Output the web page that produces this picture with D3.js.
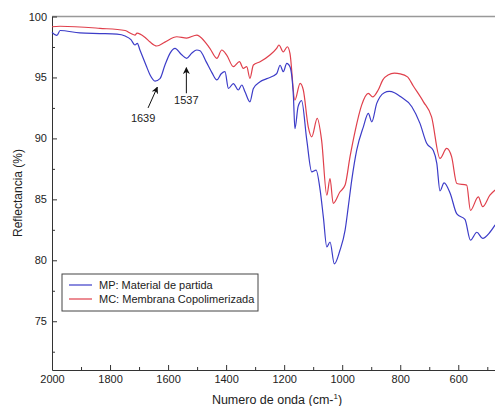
<!DOCTYPE html>
<html>
<head>
<meta charset="utf-8">
<script src="https://cdn.jsdelivr.net/npm/d3@7"></script>
<style>
  body { margin: 0; background: #fff; }
  svg { font-family: "Liberation Sans", Arial, sans-serif; }
  .axis text { font-size: 11px; fill: #222; }
  .axis path, .axis line { stroke: #333; }
  .line { fill: none; stroke-width: 1.2; }
</style>
</head>
<body>
<div id="graph"></div>
<script>
// wavenumber (cm-1) and reflectance (%)
var mpWave = [2000, 1983, 1972, 1904, 1835, 1776, 1748, 1728, 1714, 1706, 1697, 1676, 1662, 1645, 1628, 1611, 1593, 1576, 1555, 1536, 1518, 1501, 1490, 1469, 1449, 1432, 1417, 1404, 1392, 1375, 1358, 1346, 1335, 1318, 1306, 1283, 1260, 1226, 1214, 1203, 1191, 1180, 1168, 1163, 1152, 1140, 1122, 1105, 1090, 1076, 1065, 1053, 1042, 1027, 1008, 990, 979, 967, 950, 927, 910, 898, 881, 870, 855, 838, 820, 801, 760, 732, 709, 686, 674, 663, 649, 628, 605, 577, 558, 536, 516, 491, 473];
var mpRefl = [98.7, 98.45, 98.85, 98.65, 98.6, 98.55, 98.4, 98.1, 97.66, 97.8, 97.25, 96.0, 95.2, 94.7, 94.9, 96.0, 97.0, 97.39, 96.9, 96.57, 97.0, 97.25, 97.19, 96.3, 95.4, 94.8, 95.3, 95.47, 94.1, 94.5, 93.97, 94.38, 93.83, 93.0, 94.1, 94.65, 94.9, 95.3, 96.0, 95.47, 96.16, 95.88, 93.4, 90.8, 92.6, 93.1, 89.86, 87.26, 87.4, 85.76, 83.56, 81.1, 81.5, 79.7, 80.8, 82.47, 84.4, 86.6, 89.04, 90.95, 92.05, 91.36, 92.87, 93.4, 93.75, 93.85, 93.75, 93.45, 92.6, 91.23, 89.6, 89.0, 87.95, 85.7, 86.35, 85.5, 83.8, 83.35, 81.65, 82.3, 81.8, 82.3, 82.9];

var mcWave = [2000, 1972, 1835, 1748, 1728, 1714, 1707, 1680, 1662, 1639, 1611, 1570, 1536, 1501, 1490, 1456, 1432, 1415, 1398, 1375, 1354, 1341, 1329, 1318, 1306, 1283, 1249, 1226, 1218, 1203, 1189, 1180, 1163, 1145, 1134, 1117, 1105, 1086, 1071, 1053, 1042, 1031, 1008, 990, 973, 956, 933, 910, 895, 876, 860, 842, 820, 800, 775, 755, 720, 692, 663, 640, 623, 605, 571, 558, 531, 516, 491, 473];
var mcRefl = [99.16, 99.2, 99.03, 98.85, 98.6, 98.48, 98.64, 98.3, 97.9, 97.58, 97.9, 98.34, 98.23, 98.48, 98.34, 97.39, 96.57, 97.25, 96.84, 95.88, 96.29, 95.75, 95.88, 94.93, 96.02, 96.29, 96.84, 97.39, 97.66, 97.1, 97.52, 96.98, 93.14, 94.52, 93.97, 90.95, 90.13, 91.64, 89.86, 85.34, 86.7, 84.66, 85.6, 86.17, 88.5, 90.54, 92.73, 93.69, 93.4, 93.97, 94.8, 95.2, 95.35, 95.3, 95.05, 94.3, 93.0, 91.77, 88.36, 89.18, 88.5, 86.3, 86.17, 84.1, 85.2, 84.4, 85.34, 85.76];

var seriesNames = ["MP: Material de partida", "MC: Membrana Copolimerizada"];
var xTicks = [2000, 1800, 1600, 1400, 1200, 1000, 800, 600];
var xMinor = [1900, 1700, 1500, 1300, 1100, 900, 700, 500];
var yTicks = [75, 80, 85, 90, 95, 100];
var yMinor = [72.5, 77.5, 82.5, 87.5, 92.5, 97.5];
var peakLabels = ["1639", "1537"];

var width = 495, height = 406;
var plotLeft = 52, plotTop = 16.5, plotBottom = 370;

var x = d3.scaleLinear().domain([2000, 400]).range([plotLeft, plotLeft + 1600 * 0.2902]);
var y = d3.scaleLinear().domain([71, 100]).range([plotBottom, plotTop]);

var svg = d3.select("#graph").append("svg")
    .attr("width", width)
    .attr("height", height);

// top frame line
svg.append("line")
    .attr("x1", plotLeft).attr("x2", width)
    .attr("y1", plotTop).attr("y2", plotTop)
    .attr("stroke", "#999").attr("stroke-width", 1.5);

svg.append("g")
    .attr("class", "axis axis--x")
    .attr("transform", "translate(0," + plotBottom + ")")
    .call(d3.axisBottom(x).tickValues(xTicks).tickFormat(d3.format("d"))
      .tickSizeInner(-5).tickSizeOuter(0).tickPadding(5));

svg.append("g")
    .attr("class", "axis axis--x-minor")
    .attr("transform", "translate(0," + plotBottom + ")")
    .call(d3.axisBottom(x).tickValues(xMinor).tickSizeInner(-3).tickSizeOuter(0).tickFormat(""))
    .select(".domain").remove();

svg.append("g")
    .attr("class", "axis axis--y")
    .attr("transform", "translate(" + plotLeft + ",0)")
    .call(d3.axisLeft(y).tickValues(yTicks).tickFormat(d3.format("d"))
      .tickSizeInner(-5).tickSizeOuter(0).tickPadding(5));

svg.append("g")
    .attr("class", "axis axis--y-minor")
    .attr("transform", "translate(" + plotLeft + ",0)")
    .call(d3.axisLeft(y).tickValues(yMinor).tickSizeInner(-3).tickSizeOuter(0).tickFormat(""))
    .select(".domain").remove();

// axis titles
var xTitle = svg.append("text")
    .attr("x", 277).attr("y", 404)
    .attr("text-anchor", "middle")
    .style("font-size", "12.5px").attr("fill", "#222");
xTitle.append("tspan").text("Numero de onda (cm-");
xTitle.append("tspan").attr("dy", -5).style("font-size", "8px").text("1");
xTitle.append("tspan").attr("dy", 5).text(")");

svg.append("text")
    .attr("transform", "translate(22,193) rotate(-90)")
    .attr("text-anchor", "middle")
    .style("font-size", "12px").attr("fill", "#222")
    .text("Reflectancia (%)");

var line = d3.line()
    .x(function(d) { return x(d[0]); })
    .y(function(d) { return y(d[1]); })
    .curve(d3.curveMonotoneX);

function appendSVGLine(wave, refl, color) {
  var data = wave.map(function(w, i) { return [w, refl[i]]; });
  svg.append("path")
      .datum(data)
      .attr("class", "line")
      .attr("stroke", color)
      .attr("d", line);
}

appendSVGLine(mcWave, mcRefl, "#e0404c");
appendSVGLine(mpWave, mpRefl, "#3c3cc8");

// peak annotations
svg.append("defs").append("marker")
    .attr("id", "arrow")
    .attr("viewBox", "0 0 10 10")
    .attr("refX", 9).attr("refY", 5)
    .attr("markerWidth", 7).attr("markerHeight", 7)
    .attr("markerUnits", "userSpaceOnUse")
    .attr("orient", "auto")
  .append("path")
    .attr("d", "M0,0L10,5L0,10L3,5Z")
    .attr("fill", "#111");

svg.append("line")
    .attr("x1", x(1669)).attr("y1", y(92.5))
    .attr("x2", x(1637)).attr("y2", y(94.2))
    .attr("stroke", "#111").attr("marker-end", "url(#arrow)");
svg.append("text")
    .attr("x", x(1686)).attr("y", 122)
    .attr("text-anchor", "middle").style("font-size", "11px").attr("fill", "#222")
    .text(peakLabels[0]);

svg.append("line")
    .attr("x1", x(1537)).attr("y1", y(93.7))
    .attr("x2", x(1537)).attr("y2", y(95.8))
    .attr("stroke", "#111").attr("marker-end", "url(#arrow)");
svg.append("text")
    .attr("x", x(1537)).attr("y", 104)
    .attr("text-anchor", "middle").style("font-size", "11px").attr("fill", "#222")
    .text(peakLabels[1]);

// legend
var legend = svg.append("g").attr("transform", "translate(62,274)");
legend.append("rect")
    .attr("width", 196).attr("height", 37)
    .attr("fill", "#fff").attr("stroke", "#444").attr("stroke-width", 1);
[["#3c3cc8", 11], ["#e0404c", 25]].forEach(function(s, i) {
  legend.append("line")
      .attr("x1", 7).attr("x2", 30)
      .attr("y1", s[1]).attr("y2", s[1])
      .attr("stroke", s[0]).attr("stroke-width", 1.2);
  legend.append("text")
      .attr("x", 37).attr("y", s[1] + 4)
      .style("font-size", "11px").attr("fill", "#222")
      .text(seriesNames[i]);
});
</script>
</body>
</html>
